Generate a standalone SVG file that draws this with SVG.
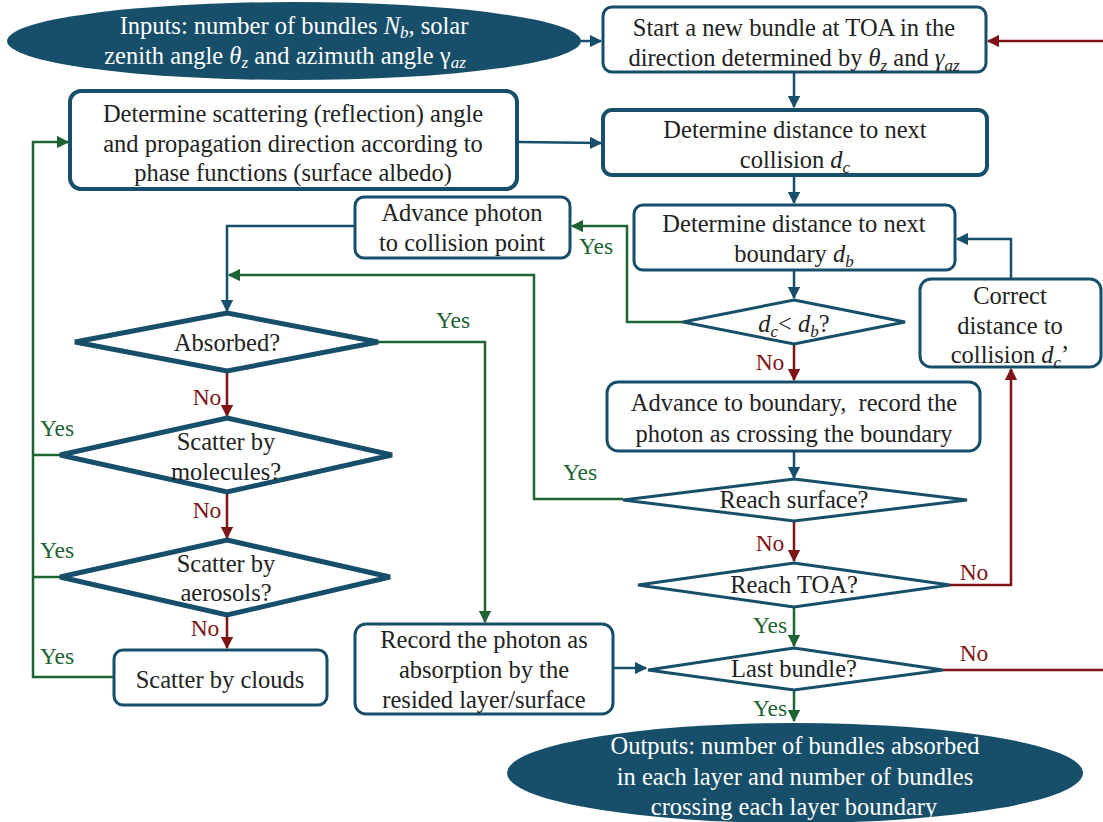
<svg xmlns="http://www.w3.org/2000/svg" width="1103" height="822" viewBox="0 0 1103 822" font-family="'Liberation Serif', 'DejaVu Serif', serif">
<style>
text{font-family:'Liberation Serif','DejaVu Serif',serif;font-size:24.5px;fill:#222;text-anchor:middle}
.w{fill:#fff}
.box{fill:#fff;stroke:#174f6a;stroke-width:3}
.box4{fill:#fff;stroke:#174f6a;stroke-width:4}
.dia{fill:#fff;stroke:#174f6a;stroke-width:3}
.dia5{fill:#fff;stroke:#174f6a;stroke-width:5}
.ell{fill:#174f6a}
.cb{fill:none;stroke:#174f6a;stroke-width:2.5}
.cg{fill:none;stroke:#1e6432;stroke-width:2.5}
.cr{fill:none;stroke:#7f1416;stroke-width:2.5}
.lg{fill:#1e6432;font-size:23.5px}
.lr{fill:#7f1416;font-size:23.5px}
.i{font-style:italic}
.s{font-style:italic;font-size:17px}
</style>
<defs>
<marker id="ab" viewBox="0 0 10 10" refX="9" refY="5" markerWidth="5" markerHeight="5" orient="auto"><path d="M0,0L10,5L0,10z" fill="#174f6a"/></marker>
<marker id="ag" viewBox="0 0 10 10" refX="9" refY="5" markerWidth="5" markerHeight="5" orient="auto"><path d="M0,0L10,5L0,10z" fill="#1e6432"/></marker>
<marker id="ar" viewBox="0 0 10 10" refX="9" refY="5" markerWidth="5" markerHeight="5" orient="auto"><path d="M0,0L10,5L0,10z" fill="#7f1416"/></marker>
</defs>

<g id="connectors">
<path class="cb" d="M580,41H601" marker-end="url(#ab)"/>
<path class="cr" d="M1106,41H988" marker-end="url(#ar)"/>
<path class="cb" d="M794,73V107" marker-end="url(#ab)"/>
<path class="cb" d="M518,142L601,143" marker-end="url(#ab)"/>
<path class="cb" d="M794,176V203" marker-end="url(#ab)"/>
<path class="cb" d="M794,271V298" marker-end="url(#ab)"/>
<path class="cg" d="M683,322H627V226H572" marker-end="url(#ag)"/>
<path class="cb" d="M355,226H227V311" marker-end="url(#ab)"/>
<path class="cr" d="M794,345V380" marker-end="url(#ar)"/>
<path class="cb" d="M1011,279V239H957" marker-end="url(#ab)"/>
<path class="cb" d="M794,452V478" marker-end="url(#ab)"/>
<path class="cg" d="M623,499H534V275H229" marker-end="url(#ag)"/>
<path class="cg" d="M378,342H485V622" marker-end="url(#ag)"/>
<path class="cr" d="M227,373V416" marker-end="url(#ar)"/>
<path class="cr" d="M227,493V538" marker-end="url(#ar)"/>
<path class="cr" d="M227,616V648" marker-end="url(#ar)"/>
<path class="cg" d="M60,455H33"/>
<path class="cg" d="M60,577H33"/>
<path class="cg" d="M114,677H33V142H68" marker-end="url(#ag)"/>
<path class="cr" d="M794,522V561" marker-end="url(#ar)"/>
<path class="cr" d="M950,585H1011V369" marker-end="url(#ar)"/>
<path class="cg" d="M794,608V646" marker-end="url(#ag)"/>
<path class="cb" d="M614,668H646" marker-end="url(#ab)"/>
<path class="cr" d="M943,670H1106V41"/>
<path class="cg" d="M794,691V721" marker-end="url(#ag)"/>
<text class="lg" x="596" y="254">Yes</text>
<text class="lg" x="453" y="328">Yes</text>
<text class="lg" x="580" y="480">Yes</text>
<text class="lg" x="57" y="436">Yes</text>
<text class="lg" x="57" y="558">Yes</text>
<text class="lg" x="57" y="664">Yes</text>
<text class="lg" x="770" y="633">Yes</text>
<text class="lg" x="770" y="716">Yes</text>
<text class="lr" x="207" y="405">No</text>
<text class="lr" x="207" y="518">No</text>
<text class="lr" x="205" y="636">No</text>
<text class="lr" x="770" y="370">No</text>
<text class="lr" x="770" y="551">No</text>
<text class="lr" x="974" y="580">No</text>
<text class="lr" x="974" y="661">No</text>
</g>

<g id="inputs">
<ellipse class="ell" cx="294" cy="41" rx="287" ry="39"/>
<text class="w"><tspan x="294" y="34">Inputs: number of bundles </tspan><tspan class="i">N</tspan><tspan class="s" dy="4">b</tspan><tspan dy="-4">, solar</tspan><tspan x="285" y="64">zenith angle </tspan><tspan class="i">θ</tspan><tspan class="s" dy="4">z</tspan><tspan dy="-4"> and azimuth angle γ</tspan><tspan class="s" dy="4">az</tspan></text>
</g>

<g id="start">
<rect class="box" x="603" y="7" width="383" height="65" rx="9"/>
<text><tspan x="794" y="36">Start a new bundle at TOA in the</tspan><tspan x="794" y="66">direction determined by </tspan><tspan class="i">θ</tspan><tspan class="s" dy="5">z</tspan><tspan dy="-5"> and </tspan><tspan class="i">γ</tspan><tspan class="s" dy="5">az</tspan></text>
</g>

<g id="scatdir">
<rect class="box4" x="70" y="91" width="447" height="98" rx="11"/>
<text x="293" y="122">Determine scattering (reflection) angle</text>
<text x="293" y="152">and propagation direction according to</text>
<text x="293" y="181">phase functions (surface albedo)</text>
</g>

<g id="collision">
<rect class="box4" x="603" y="110" width="384" height="65" rx="9"/>
<text x="795" y="138">Determine distance to next</text>
<text x="795" y="168">collision <tspan class="i">d</tspan><tspan class="s" dy="5">c</tspan></text>
</g>

<g id="advphoton">
<rect class="box" x="355" y="197" width="215" height="61" rx="9"/>
<text x="462" y="221">Advance photon</text>
<text x="462" y="251">to collision point</text>
</g>

<g id="boundary">
<rect class="box" x="634" y="205" width="321" height="65" rx="9"/>
<text x="794" y="232">Determine distance to next</text>
<text x="794" y="262">boundary <tspan class="i">d</tspan><tspan class="s" dy="5">b</tspan></text>
</g>

<g id="correct">
<rect class="box" x="920" y="279" width="181" height="88" rx="11"/>
<text x="1010" y="304">Correct</text>
<text x="1010" y="334">distance to</text>
<text x="1010" y="363">collision <tspan class="i">d</tspan><tspan class="s" dy="5">c</tspan><tspan dy="-5">’</tspan></text>
</g>

<g id="cmp">
<polygon class="dia" points="794,300 905,322 794,344 683,322"/>
<text x="794" y="332"><tspan class="i">d</tspan><tspan class="s" dy="5">c</tspan><tspan dy="-5">&lt; </tspan><tspan class="i">d</tspan><tspan class="s" dy="5">b</tspan><tspan dy="-5">?</tspan></text>
</g>

<g id="absorbed">
<polygon class="dia5" points="227,313 378,342 227,371 75,342"/>
<text x="227" y="351">Absorbed?</text>
</g>

<g id="molecules">
<polygon class="dia5" points="227,418 392,455 227,492 60,455"/>
<text x="226" y="450">Scatter by</text>
<text x="226" y="480">molecules?</text>
</g>

<g id="aerosols">
<polygon class="dia5" points="227,540 390,577 227,615 60,577"/>
<text x="226" y="572">Scatter by</text>
<text x="226" y="601">aerosols?</text>
</g>

<g id="clouds">
<rect class="box" x="114" y="650" width="213" height="55" rx="9"/>
<text x="220" y="688">Scatter by clouds</text>
</g>

<g id="record">
<rect class="box" x="355" y="624" width="258" height="90" rx="11"/>
<text x="484" y="648">Record the photon as</text>
<text x="484" y="678">absorption by the</text>
<text x="484" y="708">resided layer/surface</text>
</g>

<g id="advboundary">
<rect class="box" x="607" y="382" width="373" height="69" rx="11"/>
<text x="794" y="411">Advance to boundary,&#160; record the</text>
<text x="794" y="442">photon as crossing the boundary</text>
</g>

<g id="surface">
<polygon class="dia" points="794,479 967,500 794,521 623,500"/>
<text x="794" y="508">Reach surface?</text>
</g>

<g id="toa">
<polygon class="dia" points="794,563 950,585 794,607 638,585"/>
<text x="794" y="593">Reach TOA?</text>
</g>

<g id="last">
<polygon class="dia" points="794,648 943,670 794,690 648,670"/>
<text x="794" y="677">Last bundle?</text>
</g>

<g id="outputs">
<ellipse class="ell" cx="795" cy="773" rx="288" ry="50"/>
<text class="w" x="795" y="754">Outputs: number of bundles absorbed</text>
<text class="w" x="795" y="785">in each layer and number of bundles</text>
<text class="w" x="794" y="815">crossing each layer boundary</text>
</g>
</svg>
